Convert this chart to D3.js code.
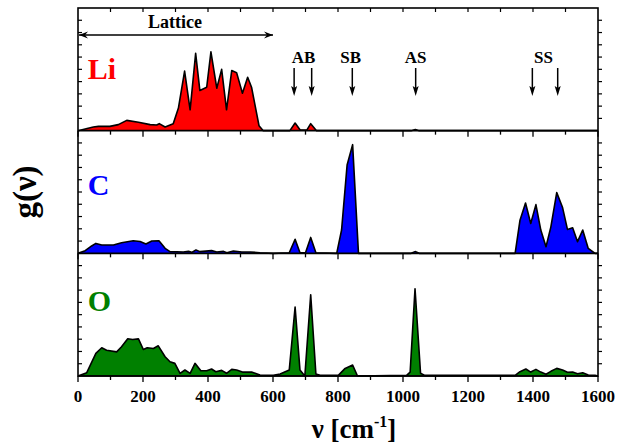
<!DOCTYPE html>
<html><head><meta charset="utf-8">
<script src="https://cdn.jsdelivr.net/npm/d3@7"></script>
<style>body{margin:0;background:#fff}svg{display:block}</style>
</head><body>
<svg id="c" width="626" height="444"></svg>
<script>
// Data: [wavenumber cm^-1, g(nu) in tick units]
const liData = [[0,0],[47,0.3],[63,0.35],[98,0.35],[124,0.49],[150,0.84],[186,0.68],[222,0.49],[242,0.46],[250,0.57],[268,0.3],[293,0.57],[309,1.84],[328,4.86],[345,1.7],[362,6.3],[375,3.27],[396,3.54],[409,6.43],[427,3.46],[442,5.0],[457,1.7],[473,4.9],[488,4.73],[506,3.05],[522,4.35],[534,3.54],[557,0.4],[570,0],[652,0],[668,0.62],[683,0.08],[704,0.05],[716,0.57],[734,0],[1025,0],[1038,0.1],[1050,0],[1600,0]];
const cData = [[0,0],[22,0.22],[42,0.6],[55,0.81],[73,0.68],[109,0.68],[134,0.86],[170,1.03],[191,0.97],[209,0.76],[227,1.0],[249,1.03],[268,0.41],[283,0.14],[324,0.11],[340,0.16],[350,0.08],[363,0.27],[375,0.14],[411,0.22],[427,0.11],[448,0.16],[458,0.05],[478,0.19],[504,0.11],[530,0.11],[560,0.05],[601,0],[650,0.05],[668,1.14],[683,0.05],[700,0.05],[716,1.3],[732,0.05],[796,0],[811,1.9],[828,7.2],[845,8.86],[863,0],[1025,0],[1037,0.14],[1050,0],[1345,0],[1360,2.7],[1377,4.1],[1393,2.43],[1409,3.97],[1424,1.9],[1440,0.54],[1455,2.16],[1473,4.95],[1491,3.73],[1506,1.95],[1522,2.08],[1537,0.95],[1553,1.9],[1570,0.4],[1591,0],[1600,0]];
const oData = [[0,0],[27,0.27],[55,1.84],[73,2.3],[88,2.1],[119,1.97],[134,2.38],[153,3.03],[168,2.97],[186,3.03],[201,2.16],[213,2.3],[232,2.24],[247,2.46],[268,1.57],[283,1.16],[298,1.03],[314,0.22],[329,0.49],[345,0.22],[360,1.03],[378,0.43],[396,0.43],[411,0.57],[424,0.35],[442,0.46],[457,0.22],[473,0.54],[488,0.49],[506,0.32],[534,0.32],[560,0.08],[601,0.05],[622,0.16],[650,0.49],[668,5.62],[683,0.49],[698,0],[716,6.62],[732,0.16],[745,0.05],[801,0.05],[822,0.62],[845,0.89],[860,0],[1011,0.05],[1022,0.32],[1037,7.1],[1054,0.22],[1067,0.05],[1345,0.05],[1360,0.35],[1378,0.57],[1393,0.32],[1409,0.54],[1424,0.32],[1440,0.14],[1455,0.38],[1473,0.62],[1491,0.49],[1506,0.3],[1522,0.32],[1537,0.19],[1553,0.27],[1570,0.08],[1591,0.05],[1600,0]];
const panelNames = ["Li","C","O"];
const panelColors = ["#ff0000","#0000ff","#008000"];
const xTicks = [0,200,400,600,800,1000,1200,1400,1600];
const modeLabels = [["AB",694],["SB",839],["AS",1039],["SS",1432]];
const modeArrows = [665,719,844,1039,1398,1476];
const latticeRange = [0,600];

const svg = d3.select("#c");
const L=78, R=598, T=8, B=376;
const ph = (B-T)/3;
const x = d3.scaleLinear().domain([0,1600]).range([L,R]);
const serif = "'Liberation Serif','Times New Roman',serif";
const datasets=[liData,cData,oData];

datasets.forEach((data,i)=>{
  const top=T+i*ph, bot=top+ph;
  const y=d3.scaleLinear().domain([0,10]).range([bot,top]);
  const area=d3.area().x(d=>x(d[0])).y0(y(0)).y1(d=>y(d[1]));
  const line=d3.line().x(d=>x(d[0])).y(d=>y(d[1]));
  svg.append("path").attr("d",area(data)).attr("fill",panelColors[i]);
  svg.append("path").attr("d",line(data)).attr("fill","none").attr("stroke","#000").attr("stroke-width",1.6).attr("stroke-linejoin","round");
  const yt=d3.range(1,10);
  svg.append("g").selectAll("line").data(yt).join("line")
    .attr("x1",L).attr("x2",L+4).attr("y1",d=>y(d)).attr("y2",d=>y(d)).attr("stroke","#000").attr("stroke-width",1.2);
  svg.append("g").selectAll("line").data(yt).join("line")
    .attr("x1",R).attr("x2",R+4).attr("y1",d=>y(d)).attr("y2",d=>y(d)).attr("stroke","#000").attr("stroke-width",1.2);
  const minor=d3.range(100,1600,200);
  svg.append("g").selectAll("line").data(xTicks).join("line")
    .attr("x1",d=>x(d)).attr("x2",d=>x(d)).attr("y1",bot).attr("y2",bot+6).attr("stroke","#000").attr("stroke-width",1.3);
  svg.append("g").selectAll("line").data(minor).join("line")
    .attr("x1",d=>x(d)).attr("x2",d=>x(d)).attr("y1",bot).attr("y2",bot+4).attr("stroke","#000").attr("stroke-width",1.3);
  svg.append("text").attr("x",x(30)).attr("y",top+(i===0?71:i===1?64:58)).attr("fill",panelColors[i])
    .attr("font-family",serif).attr("font-weight","bold").attr("font-size",30).text(panelNames[i]);
  svg.append("line").attr("x1",L).attr("x2",R).attr("y1",bot).attr("y2",bot).attr("stroke","#000").attr("stroke-width",1.6);
});
svg.append("g").selectAll("line").data(d3.range(100,1600,100)).join("line")
  .attr("x1",d=>x(d)).attr("x2",d=>x(d)).attr("y1",T).attr("y2",T+4).attr("stroke","#000").attr("stroke-width",1.2);
svg.append("rect").attr("x",L).attr("y",T).attr("width",R-L).attr("height",B-T).attr("fill","none").attr("stroke","#000").attr("stroke-width",1.6);

svg.append("g").selectAll("text").data(xTicks).join("text")
  .attr("x",d=>x(d)).attr("y",402).attr("text-anchor","middle")
  .attr("font-family",serif).attr("font-weight","bold").attr("font-size",17).text(d=>d);
const xt=svg.append("text").attr("x",354).attr("y",438).attr("text-anchor","middle")
  .attr("font-family",serif).attr("font-weight","bold").attr("font-size",27);
xt.append("tspan").text("ν [cm");
xt.append("tspan").attr("font-size",16).attr("dy",-11).text("-1");
xt.append("tspan").attr("dy",11).text("]");
svg.append("text").attr("transform","translate(36,192) rotate(-90)").attr("text-anchor","middle")
  .attr("font-family",serif).attr("font-weight","bold").attr("font-size",33).text("g(ν)");

svg.append("text").attr("x",175).attr("y",28).attr("text-anchor","middle")
  .attr("font-family",serif).attr("font-weight","bold").attr("font-size",18).text("Lattice");
const la=35, x0=x(latticeRange[0])+1, x1=x(latticeRange[1]);
svg.append("line").attr("x1",x0).attr("x2",x1).attr("y1",la).attr("y2",la).attr("stroke","#000").attr("stroke-width",1.6);
svg.append("path").attr("d",`M${x0},${la} L${x0+9},${la-3.5} L${x0+6},${la} L${x0+9},${la+3.5} Z`).attr("fill","#000");
svg.append("path").attr("d",`M${x1},${la} L${x1-9},${la-3.5} L${x1-6},${la} L${x1-9},${la+3.5} Z`).attr("fill","#000");

svg.append("g").selectAll("text").data(modeLabels).join("text")
  .attr("x",d=>x(d[1])).attr("y",63).attr("text-anchor","middle")
  .attr("font-family",serif).attr("font-weight","bold").attr("font-size",17).text(d=>d[0]);
modeArrows.forEach(v=>{
  const ax=x(v);
  svg.append("line").attr("x1",ax).attr("x2",ax).attr("y1",68).attr("y2",90).attr("stroke","#000").attr("stroke-width",1.5);
  svg.append("path").attr("d",`M${ax},96 L${ax-3},86 L${ax},88 L${ax+3},86 Z`).attr("fill","#000");
});
</script>
</body></html>
